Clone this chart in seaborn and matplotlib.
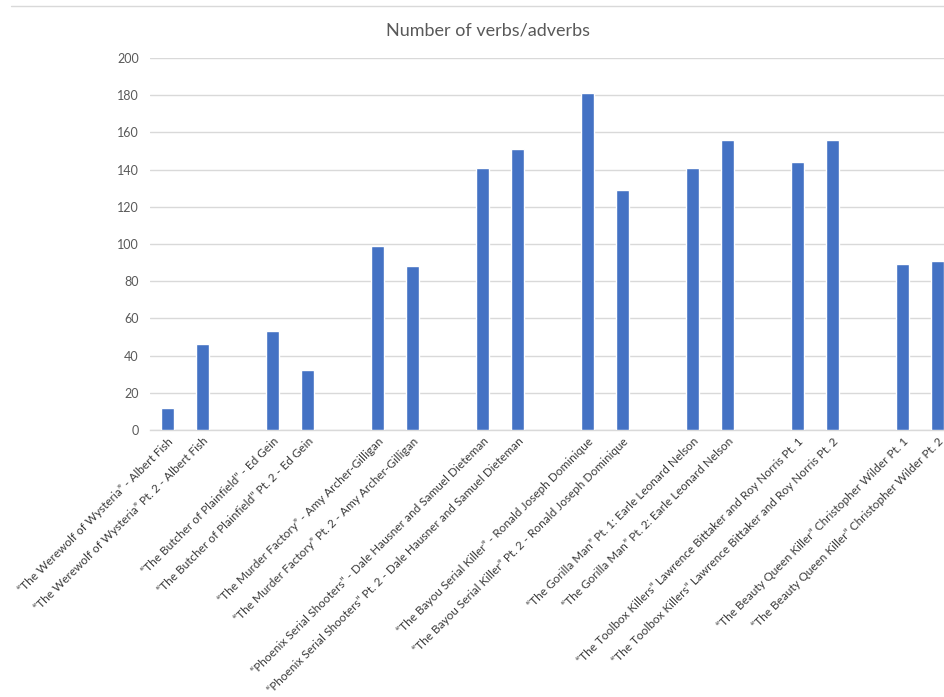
import matplotlib
matplotlib.use("Agg")
import matplotlib.pyplot as plt
from matplotlib.lines import Line2D
import seaborn as sns
import pandas as pd

episodes = [
    "“The Werewolf of Wysteria” - Albert Fish",
    "“The Werewolf of Wysteria” Pt. 2 - Albert Fish",
    "“The Butcher of Plainfield” - Ed Gein",
    "“The Butcher of Plainfield” Pt. 2 - Ed Gein",
    "“The Murder Factory” - Amy Archer-Gilligan",
    "“The Murder Factory” Pt. 2 - Amy Archer-Gilligan",
    "“Phoenix Serial Shooters” - Dale Hausner and Samuel Dieteman",
    "“Phoenix Serial Shooters” Pt. 2 - Dale Hausner and Samuel Dieteman",
    "“The Bayou Serial Killer” - Ronald Joseph Dominique",
    "“The Bayou Serial Killer” Pt. 2 - Ronald Joseph Dominique",
    "“The Gorilla Man” Pt. 1: Earle Leonard Nelson",
    "“The Gorilla Man” Pt. 2: Earle Leonard Nelson",
    "“The Toolbox Killers” Lawrence Bittaker and Roy Norris Pt. 1",
    "“The Toolbox Killers” Lawrence Bittaker and Roy Norris Pt. 2",
    "“The Beauty Queen Killer” Christopher Wilder Pt. 1",
    "“The Beauty Queen Killer” Christopher Wilder Pt. 2",
]
verbs_adverbs = [12, 46, 53, 32, 99, 88, 141, 151, 181, 129, 141, 156, 144, 156, 89, 91]
title = "Number of verbs/adverbs"
y_ticks = [0, 20, 40, 60, 80, 100, 120, 140, 160, 180, 200]

# category order with empty gap categories between each pair
order = []
for i in range(0, len(episodes), 2):
    if i > 0:
        order.append(" " * (i // 2))
    order += [episodes[i], episodes[i + 1]]

df = pd.DataFrame({"episode": episodes, "value": verbs_adverbs})

sns.set_theme(style="white")
plt.rcParams["font.family"] = ["Lato", "DejaVu Sans"]

fig = plt.figure(figsize=(9.45, 6.97), dpi=100)
ax = fig.add_axes([150 / 945, 1 - 430 / 697, 805 / 945, (430 - 58) / 697])

sns.barplot(data=df, x="episode", y="value", order=order, color="#4472C4",
            width=0.35, saturation=1, ax=ax, zorder=3)

ax.set_xlim(-0.5, len(order) - 0.5)
ax.set_ylim(0, 200)
ax.set_yticks(y_ticks)
ax.set_yticklabels([str(t) for t in y_ticks], fontsize=9, color="#595959")
ax.yaxis.grid(True, color="#d9d9d9", linewidth=1, zorder=0)
ax.xaxis.grid(False)
for s in ["top", "right", "left"]:
    ax.spines[s].set_visible(False)
ax.spines["bottom"].set_color("#d9d9d9")
ax.spines["bottom"].set_linewidth(1)
ax.spines["bottom"].set_zorder(2)
ax.tick_params(axis="y", length=0, pad=8)
ax.tick_params(axis="x", length=0, pad=4)
ax.set_xlabel("")
ax.set_ylabel("")
ax.set_xticks(range(len(order)))
ax.set_xticklabels(order, rotation=45, ha="right", rotation_mode="anchor",
                   fontsize=8.5, color="#3a3a3a")

fig.text(488 / 945, 1 - 30 / 697, title, ha="center", va="center",
         fontsize=13, color="#595959")
fig.add_artist(Line2D([11 / 945, 1], [1 - 6 / 697, 1 - 6 / 697],
                      color="#d9d9d9", linewidth=1))

fig.savefig("out.png", dpi=100, facecolor="white")
